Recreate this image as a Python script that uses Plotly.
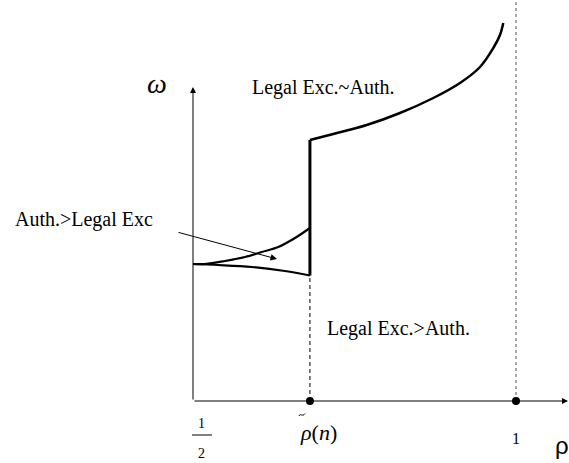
import plotly.graph_objects as go

# Regime boundaries in the (rho, omega) plane
rho_half = 0.5
rho_tilde = 0.681
rho_one = 1.0

# Lower branch of the region below rho_tilde
lower_rho = [0.5, 0.5387, 0.5913, 0.6424, 0.681]
lower_omega = [1.37, 1.36, 1.34, 1.30, 1.255]

# Upper branch of the region below rho_tilde
upper_rho = [0.5, 0.5186, 0.5495, 0.5805, 0.6063, 0.632, 0.6579, 0.681]
upper_omega = [1.37, 1.37, 1.40, 1.44, 1.49, 1.54, 1.63, 1.73]

# Jump at rho_tilde
jump_omega = [1.255, 2.61]

# Boundary above rho_tilde, rising towards rho = 1
high_rho = [0.681, 0.7172, 0.7689, 0.8204, 0.872, 0.9133, 0.9443, 0.9649, 0.9752, 0.9803]
high_omega = [2.61, 2.67, 2.76, 2.88, 3.03, 3.18, 3.34, 3.53, 3.66, 3.78]

# Axis extents
x_axis_end = 1.0805
y_axis_top = 3.14
x_range = [0.20124, 1.08204]
y_range = [-0.62, 4.01]

serif = "Liberation Serif, Times New Roman, serif"

fig = go.Figure()

# rho = 1 reference line (dotted grey)
fig.add_trace(go.Scatter(x=[rho_one, rho_one], y=[0, y_range[1]], mode="lines",
                         line=dict(color="#8a8a8a", width=1.5, dash="dot")))
# dashed drop line at rho_tilde
fig.add_trace(go.Scatter(x=[rho_tilde, rho_tilde], y=[0, jump_omega[0]], mode="lines",
                         line=dict(color="black", width=1, dash="4px,3px")))

fig.add_trace(go.Scatter(x=lower_rho, y=lower_omega, mode="lines", line_shape="spline",
                         line=dict(color="black", width=2.2)))
fig.add_trace(go.Scatter(x=upper_rho, y=upper_omega, mode="lines", line_shape="spline",
                         line=dict(color="black", width=2.2)))
fig.add_trace(go.Scatter(x=[rho_tilde, rho_tilde], y=jump_omega, mode="lines",
                         line=dict(color="black", width=3)))
fig.add_trace(go.Scatter(x=high_rho, y=high_omega, mode="lines", line_shape="spline",
                         line=dict(color="black", width=2.5)))

# points on the horizontal axis
fig.add_trace(go.Scatter(x=[rho_tilde, rho_one], y=[0, 0], mode="markers",
                         marker=dict(color="black", size=8)))

annotations = []

# coordinate axes with arrowheads
for (x0, y0, x1, y1) in [(rho_half, 0, x_axis_end, 0), (rho_half, 0, rho_half, y_axis_top)]:
    annotations.append(dict(x=x1, y=y1, ax=x0, ay=y0, xref="x", yref="y", axref="x", ayref="y",
                            text="", showarrow=True, arrowhead=2, arrowsize=1.2,
                            arrowwidth=1, arrowcolor="black"))

# pointer to the Auth.>Legal Exc region
annotations.append(dict(x=0.630, y=1.42, ax=0.4752, ay=1.69, xref="x", yref="y",
                        axref="x", ayref="y", text="", showarrow=True, arrowhead=2,
                        arrowsize=1.3, arrowwidth=1, arrowcolor="black"))

# region labels
region_labels = ["Legal Exc.~Auth.", "Legal Exc.>Auth.", "Auth.>Legal Exc"]
region_x = [0.5882, 0.7043, 0.2214]
region_y = [3.14, 0.73, 1.82]
for t, x, y in zip(region_labels, region_x, region_y):
    annotations.append(dict(x=x, y=y, xref="x", yref="y", text=t, showarrow=False,
                            xanchor="left", yanchor="middle",
                            font=dict(family=serif, size=20, color="black")))

# axis titles
annotations.append(dict(x=0.4443, y=3.18, xref="x", yref="y", text="<i>ω</i>", showarrow=False,
                        font=dict(family=serif, size=28, color="black")))
annotations.append(dict(x=1.0712, y=-0.44, xref="x", yref="y", text="ρ", showarrow=False,
                        font=dict(family="Liberation Sans, Arial, sans-serif", size=24, color="black")))

# tick labels on the rho axis
annotations.append(dict(x=0.5124, y=-0.22, xref="x", yref="y", text="1", showarrow=False,
                        font=dict(family=serif, size=14, color="black")))
annotations.append(dict(x=0.5124, y=-0.52, xref="x", yref="y", text="2", showarrow=False,
                        font=dict(family=serif, size=14, color="black")))
annotations.append(dict(x=0.6935, y=-0.31, xref="x", yref="y",
                        text="<i>ρ</i>(<i>n</i>)",
                        showarrow=False, font=dict(family=serif, size=22, color="black")))
annotations.append(dict(x=rho_one, y=-0.37, xref="x", yref="y", text="1", showarrow=False,
                        font=dict(family=serif, size=16, color="black")))

shapes = [
    # fraction bar of the 1/2 label
    dict(type="line", xref="x", yref="y", x0=0.4985, x1=0.5294, y0=-0.34, y1=-0.34,
         line=dict(color="black", width=1)),
    # tilde accent over rho
    dict(type="path", xref="x", yref="y",
         path="M 0.6641,-0.150 C 0.6664,-0.115 0.6695,-0.165 0.6734,-0.125",
         line=dict(color="black", width=1)),
]

fig.update_layout(
    width=569, height=463,
    margin=dict(l=0, r=0, t=0, b=0),
    paper_bgcolor="white", plot_bgcolor="white",
    showlegend=False,
    xaxis=dict(range=x_range, visible=False, fixedrange=True),
    yaxis=dict(range=y_range, visible=False, fixedrange=True),
    annotations=annotations,
    shapes=shapes,
)

fig.write_html("out.html")
